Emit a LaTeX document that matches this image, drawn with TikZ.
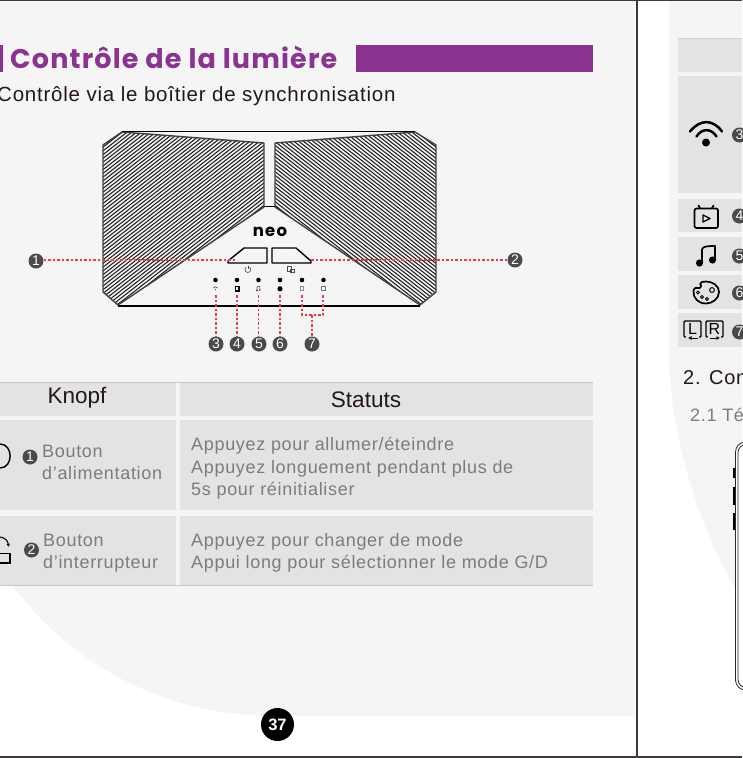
\documentclass[tikz,border=0pt]{standalone}
\usepackage{fontspec}
\setmainfont{Liberation Sans}
\newfontfamily\bodyf{Liberation Sans}[LetterSpace=3.8]
\newfontfamily\subf{Liberation Sans}[LetterSpace=3.8]
\newfontfamily\titlef{Poppins Bold}[LetterSpace=4.3]
\newfontfamily\logof{Poppins Bold}[LetterSpace=8]
\usetikzlibrary{arrows.meta}
\definecolor{pagegray}{HTML}{F5F5F5}
\definecolor{rowgray}{HTML}{E3E3E3}
\definecolor{purp}{HTML}{8A3391}
\definecolor{ink}{HTML}{231815}
\definecolor{soft}{HTML}{7C7C7C}
\definecolor{badge}{HTML}{4A4A4A}
\definecolor{frameline}{HTML}{3E3A39}
\definecolor{leader}{HTML}{EA3A4E}
\tikzset{
  x=1pt,y=-1pt,
  row/.style={fill=rowgray,draw=none},
  cnum/.style={circle,fill=badge,text=white,inner sep=0pt,minimum size=15pt,font=\fontsize{14}{14}\selectfont},
  leaderline/.style={draw=leader,line width=1.2pt,dash pattern=on 2.5pt off 2pt},
  body/.style={anchor=base west,inner sep=0pt,text=soft,font=\bodyf\fontsize{18}{18}\selectfont},
  headtxt/.style={inner sep=0pt,text=ink,font=\fontsize{22.5}{22}\selectfont},
  led/.style={circle,fill=black,inner sep=0pt,minimum size=4.6pt},
  tiny/.style={draw=black!70,line width=.6pt},
  icon/.style={draw=black,line width=1.7pt,line cap=round,line join=round},
  hatchline/.style={draw=black!88,line width=1.05pt},
  edge/.style={draw=black!75,line width=1.4pt,line join=round},
  btn/.style={draw=black,line width=1.4pt,line join=round}
}
\begin{document}
\begin{tikzpicture}
\useasboundingbox (0,0) rectangle (742,758);
\fill[white] (0,0) rectangle (742,758);
% page backgrounds
\fill[pagegray] (0,0) -- (635,0) -- (635,716) -- (275,716) .. controls (160,716) and (60,660) .. (0,567) -- cycle;
\fill[pagegray] (669,0) -- (742,0) -- (742,600) .. controls (705,540) and (672,450) .. (669,360) -- cycle;
% page frame
\draw[frameline,line width=1.4pt] (0,.6) -- (742,.6);
\draw[frameline,line width=1.6pt] (0,757) -- (742,757);
\draw[frameline,line width=1.4pt] (637,0) -- (637,758);
% heading
\fill[purp] (0,45) rectangle (3,72);
\fill[purp] (356,45) rectangle (593,72);
\node[anchor=base west,inner sep=0pt,text=purp,font=\titlef\fontsize{27}{27}\selectfont] (title) at (10,68) {Contrôle de la lumière};
\node[anchor=base west,inner sep=0pt,text=ink,font=\subf\fontsize{20.5}{20}\selectfont] (sub) at (-3,101) {Contrôle via le boîtier de synchronisation};
% projector
\begin{scope}
\clip (103,145) -- (122,132) -- (264,143) -- (264,207) -- (118,305) -- (103,292) -- cycle;
\foreach \c in {100,103.75,...,560}{\draw[hatchline] (90,{\c-0.78*90}) -- (280,{\c-0.78*280});}
\end{scope}
\begin{scope}
\clip (275,143) -- (415,132) -- (436,145) -- (436,292) -- (420,305) -- (275,207) -- cycle;
\foreach \c in {100,103.75,...,560}{\draw[hatchline] (449,{\c-0.78*90}) -- (259,{\c-0.78*280});}
\end{scope}
\draw[edge] (122,132) -- (264,143) -- (264,207) -- (118,305) -- (103,292) -- (103,145) -- cycle;
\draw[edge] (415,132) -- (275,143) -- (275,207) -- (420,305) -- (436,292) -- (436,145) -- cycle;
\draw[black,line width=1pt] (122,131.3) -- (415,131.3);
\draw[black,line width=1pt] (264,206.5) -- (275,206.5);
\draw[black,line width=1.4pt,line join=round] (118,306) -- (420,306);
\node[inner sep=0pt,font=\logof\fontsize{16.5}{16}\selectfont] (logo) at (270,232) {neo};
\draw[btn] (228,261) -- (244,248) -- (267,248) -- (267,263) -- (228,263) -- cycle;
\draw[btn] (272,248) -- (296,248) -- (311,261) -- (311,263) -- (272,263) -- cycle;
\draw[black!75,line width=.6pt] (246,267.2) arc[start angle=-130,end angle=-410,radius=3];
\draw[black!75,line width=.6pt] (248,266) -- (248,269);
\draw[black!70,line width=.5pt] (287.5,266) rectangle (291,271);
\draw[black!70,line width=.5pt] (290.5,269) rectangle (294,272.5);
% LEDs
\node[led] (d3) at (215.5,280) {};
\node[led] (d4) at (237,280) {};
\node[led] (d5) at (258.5,280) {};
\node[led] (d6) at (280,280) {};
\node[led] (d7a) at (302,280) {};
\node[led] (d7b) at (323.5,280) {};
% tiny icons
\draw[tiny] (213.3,288) -- (215.5,286.8) -- (217.7,288);
\fill[black!70] (215.5,289.5) circle (.7);
\draw[black,line width=1.4pt] (235.2,286.5) rectangle (238.8,290.8);
\draw[tiny] (257,290.5) -- (257,286.8) -- (259.8,286.3) -- (259.8,290);
\fill[black!80] (257,290.5) circle (.8) (259.8,290) circle (.8);
\fill[black] (280,288.8) circle (2.6);
\draw[black!45,line width=.5pt] (300,286.2) rectangle (303.6,290.6);
\draw[black!55,line width=.5pt] (321.7,286.2) rectangle (325.3,290.6);
% badges
\node[cnum] (n1) at (36,261) {1};
\node[cnum] (n2) at (515,260) {2};
\node[cnum] (n3) at (216,344) {3};
\node[cnum] (n4) at (237,344) {4};
\node[cnum] (n5) at (259,344) {5};
\node[cnum] (n6) at (280,344) {6};
\node[cnum] (n7) at (312,344) {7};
% leaders
\coordinate (b1) at (236,260);
\coordinate (b2) at (311,260);
\coordinate (t3) at (216,295);
\coordinate (t4) at (237,295);
\coordinate (t5) at (258.5,295);
\coordinate (t6) at (280,295);
\coordinate (t7a) at (302,295);
\coordinate (t7b) at (323,295);
\coordinate (j7) at (312,315);
\draw[leaderline] (n1.east |- b1) -- (b1);
\draw[leaderline] (b2) -- (n2.west |- b2);
\draw[leaderline] (t3) -- (n3.north);
\draw[leaderline] (t4) -- (n4.north);
\draw[leaderline] (t5) -- (t5 |- n5.north);
\draw[leaderline] (t6) -- (n6.north);
\draw[leaderline] (t7a) -- (t7a |- j7) -- (t7b |- j7) -- (t7b);
\draw[leaderline] (j7) -- (n7.north);
% table left
\fill[row] (0,382) rectangle (176,416);
\fill[row] (180,382) rectangle (593,416);
\fill[row] (0,420) rectangle (176,510);
\fill[row] (180,420) rectangle (593,510);
\fill[row] (0,516) rectangle (176,585);
\fill[row] (180,516) rectangle (593,585);
\draw[black!22,line width=.8pt] (0,382) -- (593,382);
\draw[black!22,line width=.8pt] (0,585) -- (593,585);
\node[headtxt] (knopf) at (77,398) {Knopf};
\node[headtxt] (statuts) at (366,400) {Statuts};
\draw[black,line width=1.4pt] (0,444) .. controls (13.5,444) and (13.5,468) .. (0,468);
\node[cnum] (r1) at (30,457) {1};
\node[body] (r1a) at (42,457) {Bouton};
\node[body] (r1b) at (42,479) {d’alimentation};
\draw[black,line width=1.2pt] (0,553.5) -- (10,553.5) -- (10,563) -- (0,563);
\draw[black,line width=1.1pt,-{Latex[length=3pt,width=3.5pt]}] (0,537) .. controls (5,537.5) and (8,541) .. (8.5,547);
\node[cnum] (r2) at (31.5,550) {2};
\node[body] (r2a) at (43,546) {Bouton};
\node[body] (r2b) at (43,568) {d’interrupteur};
\node[body] (s1) at (191,450) {Appuyez pour allumer/éteindre};
\node[body] (s2) at (191,473) {Appuyez longuement pendant plus de};
\node[body] (s3) at (191,495) {5s pour réinitialiser};
\node[body] (s4) at (191,546) {Appuyez pour changer de mode};
\node[body] (s5) at (191,568) {Appui long pour sélectionner le mode G/D};
\fill[black] (277.5,724.5) circle (16.5);
\node[text=white,inner sep=0pt,font=\fontsize{16.5}{16}\selectfont\bfseries] (p37t) at (277.5,724.5) {37};
% table right
\fill[row] (678,38) rectangle (742,72);
\fill[row] (678,76) rectangle (742,193);
\fill[row] (678,199) rectangle (742,232);
\fill[row] (678,237) rectangle (742,271);
\fill[row] (678,275) rectangle (742,309);
\fill[row] (678,313) rectangle (742,347);
\draw[black!18,line width=.7pt] (678,38) -- (742,38);
% wifi
\fill[black] (706,142.5) circle (4);
\draw[icon,line width=2.5pt] (690,131.5) .. controls (700,119) and (713,119) .. (722,131.5);
\draw[icon,line width=2.5pt] (696.5,136.5) .. controls (702,128) and (711,128) .. (716.5,136.5);
\node[cnum] (c3) at (739.5,135) {3};
% tv
\draw[icon,rounded corners=2pt] (694.5,208.5) rectangle (718,228);
\draw[icon] (700,208) -- (698.5,205.5);
\draw[icon] (712,208) -- (713.5,205.5);
\draw[black,line width=1.3pt,line join=round] (703,215) -- (710,218.5) -- (703,222) -- cycle;
\node[cnum] (c4) at (739.5,216) {4};
% music
\draw[icon] (702,262) -- (702,250) .. controls (702,247) and (705,246) .. (715,246) -- (715,259);
\fill[black] (699.5,263) circle (3.6) (712.5,260) circle (3.6);
\node[cnum] (c5) at (739.5,256) {5};
% palette
\draw[icon] (706,281.5) .. controls (713,281.5) and (719,286) .. (719,292) .. controls (719,299) and (712,303.5) .. (706,303.5) .. controls (698,303.5) and (693,298) .. (693.5,291) .. controls (694,288) and (696,287) .. (698,288) .. controls (701,289) and (702,285) .. (700,284) .. controls (700,282) and (703,281.5) .. (706,281.5) -- cycle;
\draw[black,line width=1pt] (712,290) circle (2.4) (698,292.5) circle (1.5) (702,297) circle (1.5) (707,299) circle (1.5);
\node[cnum] (c6) at (739.5,293) {6};
% L R
\draw[black,line width=1.4pt,rounded corners=1pt] (684,321) rectangle (701,337);
\draw[black,line width=1.4pt,rounded corners=1pt] (706,321) rectangle (723,337);
\node[inner sep=0pt,font=\fontsize{16}{16}\selectfont] (keyL) at (692.5,329) {L};
\node[inner sep=0pt,font=\fontsize{16}{16}\selectfont] (keyR) at (714.5,329) {R};
\fill[rowgray] (686,336) rectangle (699,339);
\fill[rowgray] (708,336) rectangle (721,339);
\draw[black,line width=1pt,-{Latex[length=3.5pt,width=4pt]}] (698,338) -- (688,338);
\draw[black,line width=1pt,-{Latex[length=3.5pt,width=4pt]}] (710,338) -- (720,338);
\node[cnum] (c7) at (739.5,332) {7};
% section
\node[anchor=base west,inner sep=0pt,text=ink,font=\subf\fontsize{20}{20}\selectfont] (sec) at (683,384) {2. Con};
\node[body] (subsec) at (690,421) {2.1 Té};
% phone
\fill[black] (733.2,468) rectangle (735.2,478);
\fill[black] (733.2,487) rectangle (735.2,505);
\fill[black] (733.2,513) rectangle (735.2,530);
\draw[black!85,line width=.8pt,fill=white,rounded corners=10pt] (760,442) -- (735.5,442) -- (735.5,690) -- (760,690);
\draw[black!85,line width=.8pt,rounded corners=8pt] (760,444.5) -- (738,444.5) -- (738,687.5) -- (760,687.5);
\end{tikzpicture}
\end{document}
